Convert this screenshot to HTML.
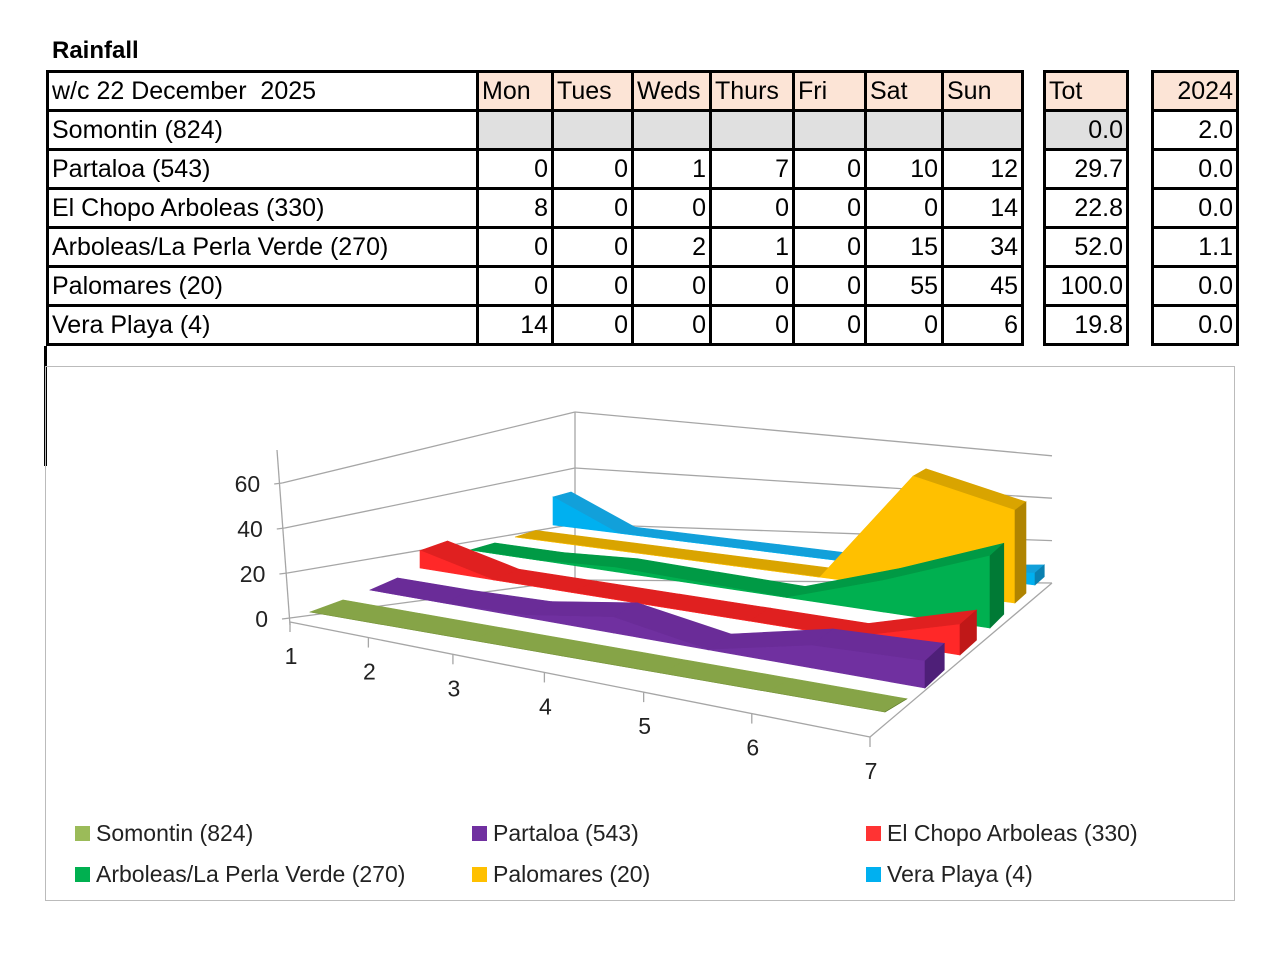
<!DOCTYPE html>
<html><head><meta charset="utf-8">
<style>
body{margin:0;width:1280px;height:974px;background:#fff;font-family:"Liberation Sans",sans-serif;position:relative;overflow:hidden}
.t{position:absolute;border-collapse:collapse;table-layout:fixed}
.t td{border:3px solid #000;font-size:25px;height:36px;padding:0 3px;white-space:nowrap;overflow:hidden;line-height:36px}
.t td.n{text-align:right}
.h{background:#FCE4D6}
.g{background:#E0E0E0}
.lg{position:absolute;font-size:23px;color:#222;display:flex;align-items:center}
.lg i{display:inline-block;width:15px;height:15px;margin-right:6px}
</style></head><body>
<div style="position:absolute;left:52px;top:37px;font-size:24px;font-weight:bold">Rainfall</div>

<table class="t" style="left:46px;top:70px;width:975px">
<colgroup><col style="width:430px"><col style="width:75px"><col style="width:80px"><col style="width:78px"><col style="width:83px"><col style="width:72px"><col style="width:77px"><col style="width:80px"></colgroup>
<tr><td>w/c 22 December&nbsp; 2025</td><td class="h">Mon</td><td class="h">Tues</td><td class="h">Weds</td><td class="h">Thurs</td><td class="h">Fri</td><td class="h">Sat</td><td class="h">Sun</td></tr>
<tr><td>Somontin (824)</td><td class="g"></td><td class="g"></td><td class="g"></td><td class="g"></td><td class="g"></td><td class="g"></td><td class="g"></td></tr>
<tr><td>Partaloa (543)</td><td class="n">0</td><td class="n">0</td><td class="n">1</td><td class="n">7</td><td class="n">0</td><td class="n">10</td><td class="n">12</td></tr>
<tr><td>El Chopo Arboleas (330)</td><td class="n">8</td><td class="n">0</td><td class="n">0</td><td class="n">0</td><td class="n">0</td><td class="n">0</td><td class="n">14</td></tr>
<tr><td>Arboleas/La Perla Verde (270)</td><td class="n">0</td><td class="n">0</td><td class="n">2</td><td class="n">1</td><td class="n">0</td><td class="n">15</td><td class="n">34</td></tr>
<tr><td>Palomares (20)</td><td class="n">0</td><td class="n">0</td><td class="n">0</td><td class="n">0</td><td class="n">0</td><td class="n">55</td><td class="n">45</td></tr>
<tr><td>Vera Playa (4)</td><td class="n">14</td><td class="n">0</td><td class="n">0</td><td class="n">0</td><td class="n">0</td><td class="n">0</td><td class="n">6</td></tr>
</table>

<table class="t" style="left:1043px;top:70px;width:86px">
<tr><td class="h">Tot</td></tr><tr><td class="n g">0.0</td></tr><tr><td class="n">29.7</td></tr><tr><td class="n">22.8</td></tr><tr><td class="n">52.0</td></tr><tr><td class="n">100.0</td></tr><tr><td class="n">19.8</td></tr>
</table>
<table class="t" style="left:1151px;top:70px;width:88px">
<tr><td class="n h">2024</td></tr><tr><td class="n">2.0</td></tr><tr><td class="n">0.0</td></tr><tr><td class="n">0.0</td></tr><tr><td class="n">1.1</td></tr><tr><td class="n">0.0</td></tr><tr><td class="n">0.0</td></tr>
</table>
<div style="position:absolute;left:44px;top:346px;width:3px;height:120px;background:#000"></div>

<div style="position:absolute;left:45px;top:366px;width:1190px;height:535px;border:1.5px solid #bbb;box-sizing:border-box"></div>
<svg id="ch" width="1280" height="974" style="position:absolute;left:0;top:0" font-family="Liberation Sans, sans-serif"></svg>

<div class="lg" style="left:75px;top:820px"><i style="background:#9BBB59"></i>Somontin (824)</div>
<div class="lg" style="left:472px;top:820px"><i style="background:#7030A0"></i>Partaloa (543)</div>
<div class="lg" style="left:866px;top:820px"><i style="background:#FF3333"></i>El Chopo Arboleas (330)</div>
<div class="lg" style="left:75px;top:861px"><i style="background:#00B050"></i>Arboleas/La Perla Verde (270)</div>
<div class="lg" style="left:472px;top:861px"><i style="background:#FFC000"></i>Palomares (20)</div>
<div class="lg" style="left:866px;top:861px"><i style="background:#00B0F0"></i>Vera Playa (4)</div>

<script>
const categories = [1,2,3,4,5,6,7];
const seriesNames = ["Somontin (824)","Partaloa (543)","El Chopo Arboleas (330)","Arboleas/La Perla Verde (270)","Palomares (20)","Vera Playa (4)"];
const somontin = [0,0,0,0,0,0,0];
const partaloa = [0,0,1,7,0,10,12];
const elChopo = [8,0,0,0,0,0,14];
const arboleas = [0,0,2,1,0,15,34];
const palomares = [0,0,0,0,0,55,45];
const veraPlaya = [14,0,0,0,0,0,6];
const yTicks = [0,20,40,60];

const allSeries=[somontin,partaloa,elChopo,arboleas,palomares,veraPlaya];
const colors=["#77933C","#7030A0","#FF2828","#00B050","#FFC000","#00B0F0"];
const tops=["#86A447","#6A2C98","#E02020","#009A45","#D9A400","#12A0DA"];
const sides=["#5E7A2C","#4E1F78","#C01818","#007A35","#B08400","#0A80B0"];
const rowStart=[[310,612],[370,590],[420,568],[470,550],[515,537],[553,525],[586,515]];
const rowEnd=[[885,712],[925,688],[960,655],[990,628],[1015,603],[1035,585],[1052,570]];
const svg=document.getElementById('ch');const NS='http://www.w3.org/2000/svg';
function persp(t){return t/(t+1.28*(1-t));}
function base(i,s){
  const u=persp(i/(categories.length-1));
  const s0=Math.floor(s),f=s-s0,s1=Math.min(s0+1,rowStart.length-1);
  const a=[rowStart[s0][0]+(rowEnd[s0][0]-rowStart[s0][0])*u,rowStart[s0][1]+(rowEnd[s0][1]-rowStart[s0][1])*u];
  const b=[rowStart[s1][0]+(rowEnd[s1][0]-rowStart[s1][0])*u,rowStart[s1][1]+(rowEnd[s1][1]-rowStart[s1][1])*u];
  return [a[0]+(b[0]-a[0])*f,a[1]+(b[1]-a[1])*f];
}
function vScale(s){return 2.3-0.06*s;}
function pt(i,s,v){const b=base(i,s);return [b[0],b[1]-v*vScale(s)];}
function poly(pts,fill,name,stroke){
  const p=document.createElementNS(NS,'polygon');
  p.setAttribute('points',pts.map(q=>q[0].toFixed(1)+','+q[1].toFixed(1)).join(' '));
  p.setAttribute('fill',fill);if(stroke){p.setAttribute('stroke',stroke);p.setAttribute('stroke-width','0.6');}
  
  
  svg.appendChild(p);
}
function line(x1,y1,x2,y2,name,c){
  const l=document.createElementNS(NS,'line');
  l.setAttribute('x1',x1);l.setAttribute('y1',y1);l.setAttribute('x2',x2);l.setAttribute('y2',y2);
  l.setAttribute('stroke',c||'#a6a6a6');l.setAttribute('stroke-width','1.3');
  
  
  svg.appendChild(l);
}
function text(x,y,s,anchor,name){
  const t=document.createElementNS(NS,'text');
  t.setAttribute('x',x);t.setAttribute('y',y);t.setAttribute('font-size','23');t.setAttribute('fill','#222');
  t.setAttribute('text-anchor',anchor);t.textContent=s;
  
  
  svg.appendChild(t);
}
function leftWall(v){return [290-v*0.13,618-v*2.25];}
function backLeft(v){return [575,580-v*2.8];}
function backRight(v){return [1052,583-v*2.12];}
yTicks.forEach(v=>{
  const a=leftWall(v),b=backLeft(v),c=backRight(v);
  line(a[0],a[1],b[0],b[1],'gridline-left-'+v);
  line(b[0],b[1],c[0],c[1],'gridline-back-'+v);
  line(a[0]-8,a[1]+1,a[0],a[1],'y-tick-'+v);
  text(a[0]-22,a[1]+9,String(v),'end','y-tick-label-'+v);
});
line(277,450,290,625,'y-axis');
line(575,412,575,580,'back-corner-line');
const FL=[290,622],FR=[870,737];
line(FL[0],FL[1],FR[0],FR[1],'x-axis');
line(FR[0],FR[1],1052,583,'floor-right-edge');
categories.forEach((c,i)=>{
  const u=persp(i/(categories.length-1));
  const x=FL[0]+(FR[0]-FL[0])*u,y=FL[1]+(FR[1]-FL[1])*u;
  line(x,y,x,y+10,'x-tick-'+c);
  text(x+1,y+42,String(c),'middle','x-tick-label-'+c);
});
const depth=0.55;
for(let s=allSeries.length-1;s>=0;s--){
  const d=allSeries[s];
  for(let i=0;i<d.length-1;i++){
    poly([pt(i,s,d[i]),pt(i+1,s,d[i+1]),pt(i+1,s+depth,d[i+1]),pt(i,s+depth,d[i])],tops[s],'ribbon-top-'+s+'-'+i,tops[s]);
  }
  for(let i=0;i<d.length-1;i++){
    poly([base(i,s),pt(i,s,d[i]),pt(i+1,s,d[i+1]),base(i+1,s)],colors[s],'ribbon-front-'+s+'-'+i,colors[s]);
  }
  const n=d.length-1;
  poly([base(n,s),pt(n,s,d[n]),pt(n,s+depth,d[n]),base(n,s+depth)],sides[s],'ribbon-end-'+s,sides[s]);
}
</script>
</body></html>
